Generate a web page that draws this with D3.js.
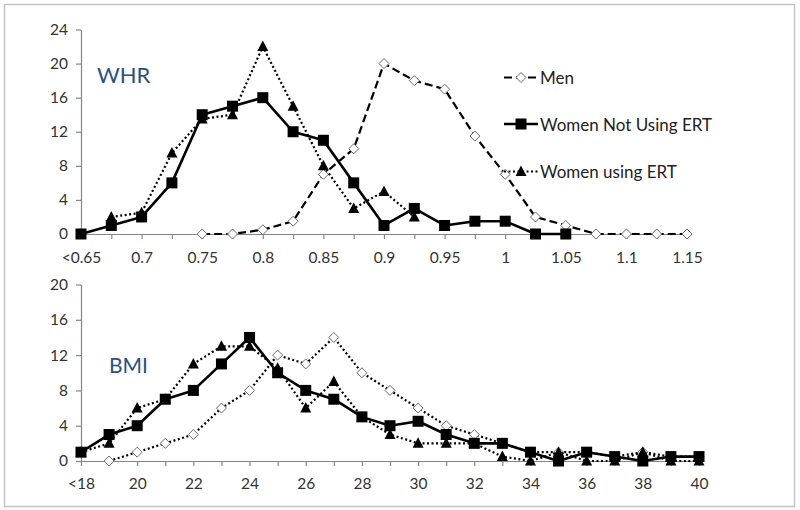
<!DOCTYPE html>
<html>
<head>
<meta charset="utf-8">
<script src="https://cdn.jsdelivr.net/npm/d3@7"></script>
<style>
  html, body { margin: 0; padding: 0; background: #fff; }
  svg { display: block; font-family: Lato, "Open Sans", sans-serif; }
</style>
</head>
<body>
<svg id="chart" width="800" height="510"></svg>
<script>
// ---------- DATA ----------
const whrCategories = ["<0.65","0.675","0.7","0.725","0.75","0.775","0.8","0.825","0.85","0.875","0.9","0.925","0.95","0.975","1","1.025","1.05","1.075","1.1","1.125","1.15"];
const whrTickLabels = ["<0.65","0.7","0.75","0.8","0.85","0.9","0.95","1","1.05","1.1","1.15"];
const whrYTicks = [0,4,8,12,16,20,24];
const whrMen        = [null,null,null,null,0,0,0.5,1.5,7,10,20,18,17,11.5,7,2,1,0,0,0,0];
const whrWomenNoERT = [0,1,2,6,14,15,16,12,11,6,1,3,1,1.5,1.5,0,0,null,null,null,null];
const whrWomenERT   = [null,2,2.5,9.5,13.5,14,22,15,8,3,5,2,null,null,null,null,null,null,null,null,null];

const bmiCategories = ["<18","19","20","21","22","23","24","25","26","27","28","29","30","31","32","33","34","35","36","37","38","39","40"];
const bmiTickLabels = ["<18","20","22","24","26","28","30","32","34","36","38","40"];
const bmiYTicks = [0,4,8,12,16,20];
const bmiMen        = [null,0,1,2,3,6,8,12,11,14,10,8,6,4,3,2,1,1,1,0.5,1,0.5,0.5];
const bmiWomenNoERT = [1,3,4,7,8,11,14,10,8,7,5,4,4.5,3,2,2,1,0,1,0.5,0,0.5,0.5];
const bmiWomenERT   = [1,2,6,7,11,13,13,10.5,6,9,5,3,2,2,2,0.5,0,1,0,0,1,0,0];

const seriesNames = ["Men","Women Not Using ERT","Women using ERT"];

// ---------- DRAW ----------
const svg = d3.select("#chart");

svg.append("rect")
  .attr("x", 4.5).attr("y", 4.5).attr("width", 790).attr("height", 502)
  .attr("fill", "#fff").attr("stroke", "#c4c4c4").attr("stroke-width", 1.5);

const styles = {
  men:   { dash: "8,4", width: 2.2, marker: "diamond" },
  menDot:{ dash: "2,2.5", width: 2.2, marker: "diamond" },
  no:    { dash: null,  width: 2.6, marker: "square" },
  ert:   { dash: "2,2.5", width: 2.2, marker: "triangle" }
};

function drawMarker(g, type, x, y) {
  if (type === "square") {
    g.append("rect").attr("x", x - 5.5).attr("y", y - 5.5).attr("width", 11).attr("height", 11)
      .attr("fill", "#000");
  } else if (type === "triangle") {
    g.append("path").attr("d", `M${x},${y-6}L${x+5.5},${y+4.5}L${x-5.5},${y+4.5}Z`).attr("fill", "#000");
  } else {
    g.append("path").attr("d", `M${x},${y-5}L${x+5},${y}L${x},${y+5}L${x-5},${y}Z`)
      .attr("fill", "#fff").attr("stroke", "#6a6a6a").attr("stroke-width", 1);
  }
}

function panel(cfg) {
  const x = d3.scalePoint().domain(cfg.categories).range([cfg.x0, cfg.x1]);
  const y = d3.scaleLinear().domain([0, cfg.yMax]).range([cfg.yBottom, cfg.yTop]);
  const g = svg.append("g");

  const yAxis = g.append("g").attr("transform", `translate(${cfg.x0},0)`)
    .call(d3.axisLeft(y).tickValues(cfg.yTicks).tickSize(5).tickSizeOuter(0).tickPadding(8));
  const xAxis = g.append("g").attr("transform", `translate(0,${cfg.yBottom})`)
    .call(d3.axisBottom(x).tickSize(5).tickSizeOuter(0).tickPadding(cfg.xPad)
      .tickFormat(d => cfg.tickLabels.includes(d) ? d : ""));
  [yAxis, xAxis].forEach(a => {
    a.selectAll("path, line").attr("stroke", "#868686").attr("stroke-width", 1.2);
    a.selectAll("text").attr("fill", "#333").style("font-size", "15.5px").style("font-family", "Lato, sans-serif");
  });

  cfg.series.forEach(s => {
    const pts = cfg.categories.map((c, i) => ({ c, v: s.values[i] }));
    const line = d3.line().defined(d => d.v !== null).x(d => x(d.c)).y(d => y(d.v));
    g.append("path").datum(pts).attr("d", line)
      .attr("fill", "none").attr("stroke", "#000").attr("stroke-width", s.style.width)
      .attr("stroke-dasharray", s.style.dash).attr("stroke-linejoin", "round");
    const mg = g.append("g");
    pts.filter(d => d.v !== null).forEach(d => drawMarker(mg, s.style.marker, x(d.c), y(d.v)));
  });

  g.append("text").attr("x", cfg.labelX).attr("y", cfg.labelY)
    .attr("fill", "#2b5081").style("font-size", cfg.labelSize + "px")
    .attr("dominant-baseline", "central").text(cfg.label);
}

panel({
  categories: whrCategories, tickLabels: whrTickLabels, yTicks: whrYTicks, yMax: 24,
  x0: 81, x1: 687, yTop: 29.5, yBottom: 234, xPad: 13,
  label: "WHR", labelX: 97, labelY: 74, labelSize: 22,
  series: [
    { values: whrMen, style: styles.men },
    { values: whrWomenNoERT, style: styles.no },
    { values: whrWomenERT, style: styles.ert }
  ]
});

panel({
  categories: bmiCategories, tickLabels: bmiTickLabels, yTicks: bmiYTicks, yMax: 20,
  x0: 81, x1: 699, yTop: 284.5, yBottom: 461, xPad: 12,
  label: "BMI", labelX: 109, labelY: 364, labelSize: 21,
  series: [
    { values: bmiMen, style: styles.menDot },
    { values: bmiWomenNoERT, style: styles.no },
    { values: bmiWomenERT, style: styles.ert }
  ]
});

// ---------- LEGEND ----------
const legend = svg.append("g");
const legendStyles = [styles.men, styles.no, styles.ert];
const legendY = [77.5, 124, 171.5];
seriesNames.forEach((name, i) => {
  const st = legendStyles[i];
  legend.append("line").attr("x1", 504).attr("x2", 538).attr("y1", legendY[i]).attr("y2", legendY[i])
    .attr("stroke", "#000").attr("stroke-width", st.width).attr("stroke-dasharray", st.dash);
  drawMarker(legend, st.marker, 521, legendY[i]);
  legend.append("text").attr("x", 540).attr("y", legendY[i]).attr("dominant-baseline", "central")
    .attr("fill", "#222").style("font-size", "17px").text(name);
});
</script>
</body>
</html>
